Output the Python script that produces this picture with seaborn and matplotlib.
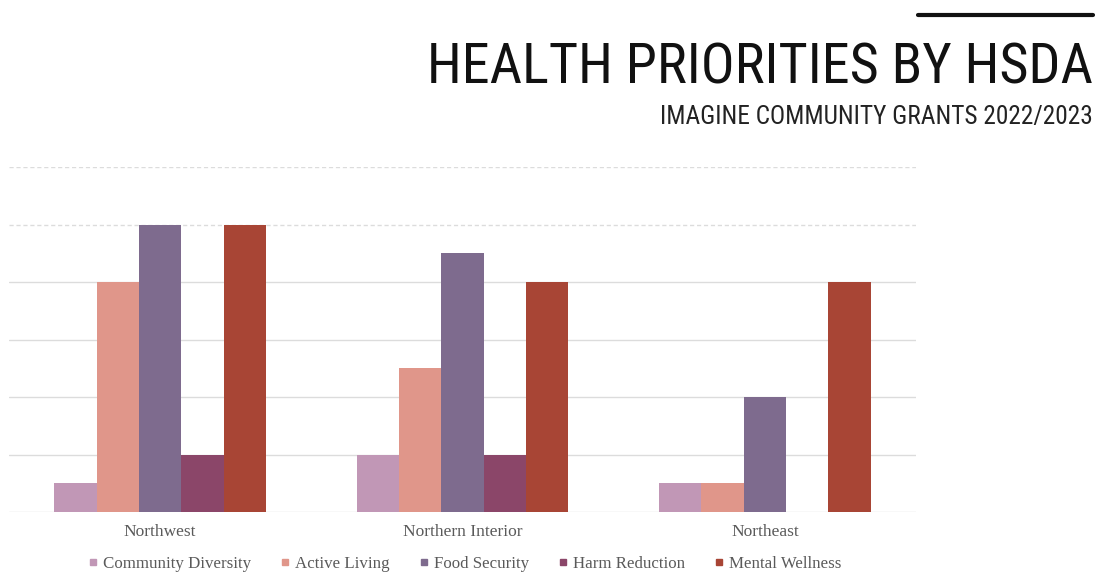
import matplotlib
matplotlib.use("Agg")
import matplotlib.pyplot as plt
import seaborn as sns
import pandas as pd
from matplotlib.lines import Line2D

# Regions (HSDA) and health priority categories
regions = ["Northwest", "Northern Interior", "Northeast"]
priorities = ["Community Diversity", "Active Living", "Food Security",
              "Harm Reduction", "Mental Wellness"]

# Number of grants per priority, per region
community_diversity = [1, 2, 1]
active_living = [8, 5, 1]
food_security = [10, 9, 4]
harm_reduction = [2, 2, 0]
mental_wellness = [10, 8, 8]

palette = ["#c197b6", "#e0968a", "#7e6b8e", "#8b4669", "#a84535"]

series = [community_diversity, active_living, food_security,
          harm_reduction, mental_wellness]
df = pd.DataFrame(
    [(r, p, vals[i]) for p, vals in zip(priorities, series)
     for i, r in enumerate(regions)],
    columns=["region", "priority", "count"],
)

sns.set_theme(style="white")

W, H = 1098, 573
fig = plt.figure(figsize=(W / 100, H / 100), dpi=100)
ax = fig.add_axes([9 / W, 1 - 512 / H, 907 / W, (512 - 167) / H])

# Horizontal reference lines behind the bars
for v in range(0, 13, 2):
    ls = (0, (3, 2)) if v >= 10 else "-"
    ax.axhline(v, color="#dcdcdc", lw=1.0, ls=ls, zorder=0)

sns.barplot(data=df, x="region", y="count", hue="priority",
            hue_order=priorities, order=regions, palette=palette,
            width=0.7, saturation=1, ax=ax, legend=False, zorder=2,
            linewidth=0)

ax.set_ylim(0, 12)
ax.set_xlim(-0.5, 2.5)
ax.set_xlabel("")
ax.set_ylabel("")
ax.set_yticks([])
ax.tick_params(axis="x", length=0, pad=9)
for lbl in ax.get_xticklabels():
    lbl.set_fontfamily("Liberation Serif")
    lbl.set_fontsize(12.5)
    lbl.set_color("#5a5a5a")
for s in ax.spines.values():
    s.set_visible(False)

# Legend below the category labels
handles = [Line2D([0], [0], marker="s", ls="", markersize=5,
                  markerfacecolor=c, markeredgecolor=c) for c in palette]
leg = fig.legend(handles, priorities, loc="center",
                 bbox_to_anchor=(465 / W, 1 - 564 / H), ncol=5,
                 frameon=False, handlelength=0.5, handletextpad=0.35,
                 columnspacing=1.75,
                 prop={"family": "Liberation Serif", "size": 12.2})
for t in leg.get_texts():
    t.set_color("#5a5a5a")

# Heading block
title_font = ["Roboto Condensed", "DejaVu Sans"]
fig.text(1093 / W, 1 - 84 / H, "HEALTH PRIORITIES BY HSDA",
         ha="right", va="baseline", fontsize=40.5, family=title_font,
         weight="normal", color="#111111")
fig.text(1093 / W, 1 - 124 / H, "IMAGINE COMMUNITY GRANTS 2022/2023",
         ha="right", va="baseline", fontsize=18.3, family=title_font,
         weight="normal", color="#222222")
fig.add_artist(Line2D([918 / W, 1093 / W], [1 - 15 / H, 1 - 15 / H],
                      color="#111111", lw=3, transform=fig.transFigure))

fig.savefig("out.png", dpi=100)
